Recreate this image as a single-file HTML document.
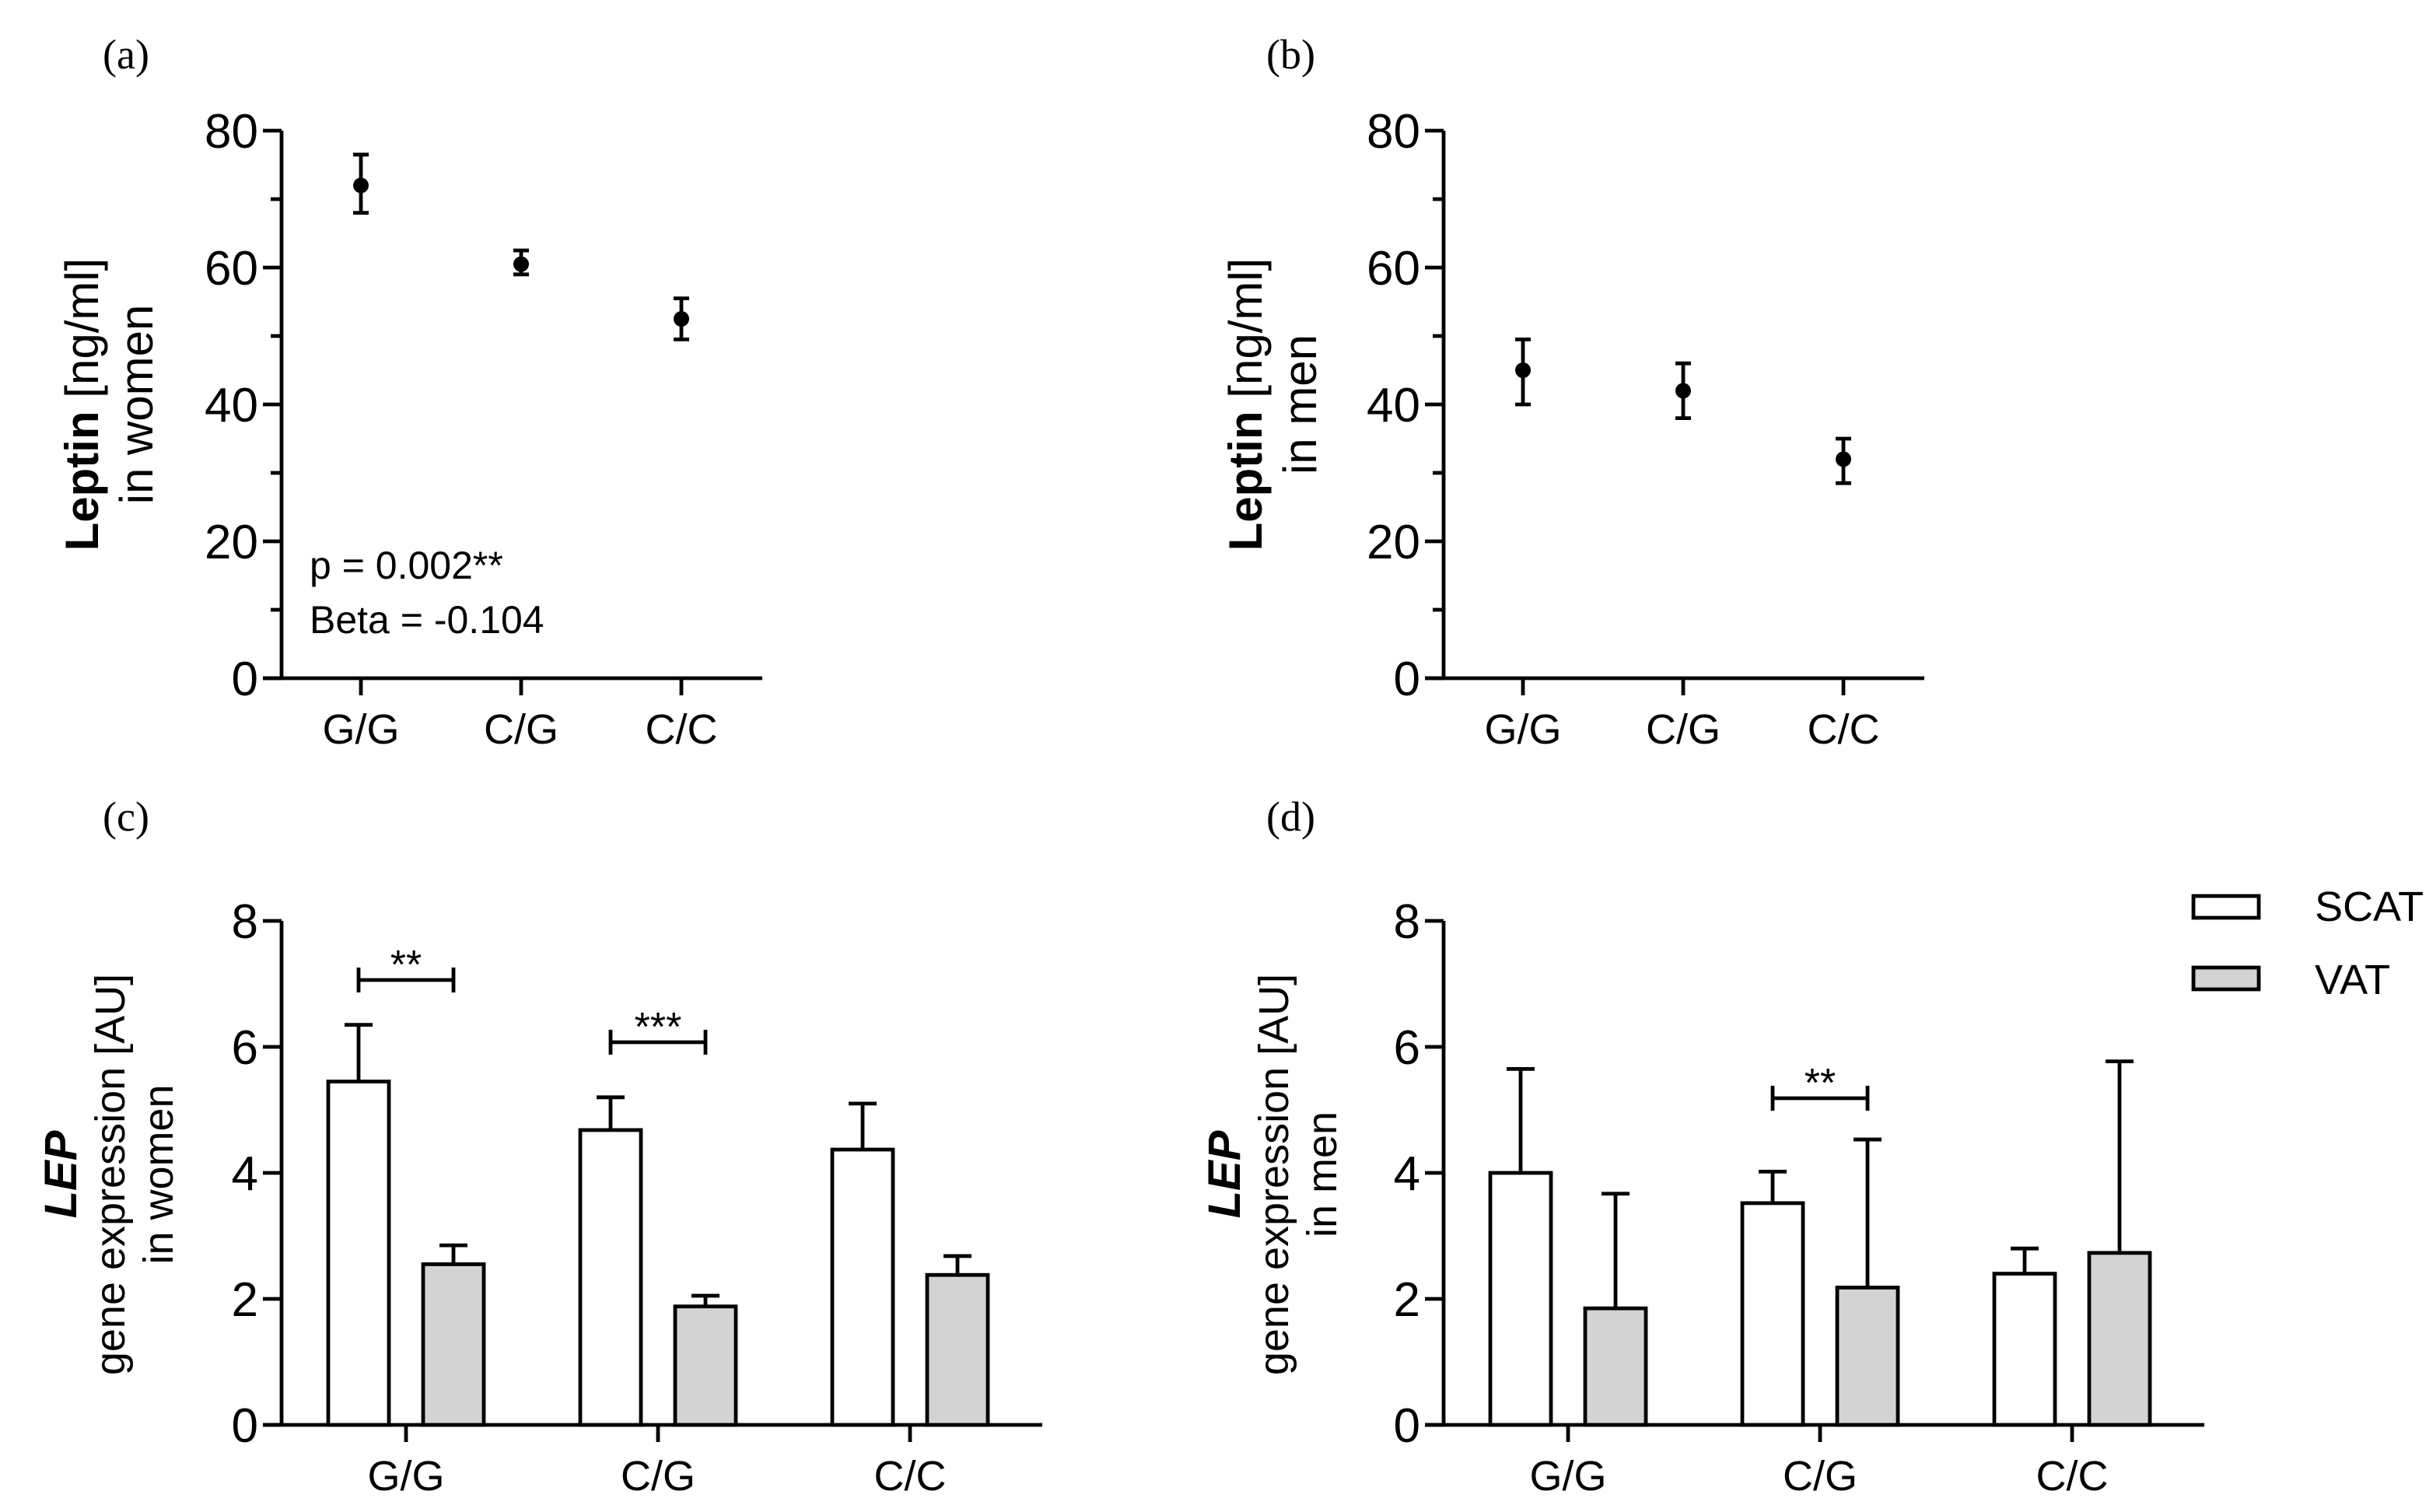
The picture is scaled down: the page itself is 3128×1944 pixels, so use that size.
<!DOCTYPE html>
<html><head><meta charset="utf-8">
<style>
html,body{margin:0;padding:0;background:#fff;}
svg{display:block;}
text{font-family:"Liberation Sans",Arial,sans-serif;fill:#000;}
.ser{font-family:"Liberation Serif","Times New Roman",serif;}
</style></head>
<body>
<svg id="fig" width="3128" height="1944" viewBox="0 0 1564 972" xmlns="http://www.w3.org/2000/svg">
<text class="ser" x="66" y="44" font-size="27">(a)</text>
<text class="ser" x="814" y="44" font-size="27">(b)</text>
<text class="ser" x="66" y="534" font-size="27">(c)</text>
<text class="ser" x="814" y="534" font-size="27">(d)</text>

<g>
<text transform="translate(63,260) rotate(-90)" text-anchor="middle" font-size="30"><tspan font-weight="bold">Leptin</tspan> [ng/ml]</text>
<text transform="translate(98,260) rotate(-90)" text-anchor="middle" font-size="30">in women</text>
</g>
<g>
<text transform="translate(811,260) rotate(-90)" text-anchor="middle" font-size="30"><tspan font-weight="bold">Leptin</tspan> [ng/ml]</text>
<text transform="translate(846,260) rotate(-90)" text-anchor="middle" font-size="30">in men</text>
</g>
<g>
<text transform="translate(49,755) rotate(-90)" text-anchor="middle" font-size="29" font-weight="bold" font-style="italic">LEP</text>
<text transform="translate(80,755) rotate(-90)" text-anchor="middle" font-size="27">gene expression [AU]</text>
<text transform="translate(111,755) rotate(-90)" text-anchor="middle" font-size="27">in women</text>
</g>
<g>
<text transform="translate(797,755) rotate(-90)" text-anchor="middle" font-size="29" font-weight="bold" font-style="italic">LEP</text>
<text transform="translate(828,755) rotate(-90)" text-anchor="middle" font-size="27">gene expression [AU]</text>
<text transform="translate(859,755) rotate(-90)" text-anchor="middle" font-size="27">in men</text>
</g>

<text x="199" y="372" font-size="25">p = 0.002**</text>
<text x="199" y="407" font-size="25">Beta = -0.104</text>

<g>
<rect x="1410" y="576" width="42" height="14" fill="#fff" stroke="#000" stroke-width="2.4"/>
<text x="1488" y="592" font-size="27">SCAT</text>
<rect x="1410" y="622" width="42" height="14" fill="#d3d3d3" stroke="#000" stroke-width="2.4"/>
<text x="1488" y="639" font-size="27">VAT</text>
</g>
<g id="charts"></g>
</svg>
<script>
const cats = ["G/G","C/G","C/C"];
const womenLeptin = [72, 60.5, 52.5];
const womenLeptinLo = [68, 59, 49.5];
const womenLeptinHi = [76.5, 62.5, 55.5];
const menLeptin = [45, 42, 32];
const menLeptinLo = [40, 38, 28.5];
const menLeptinHi = [49.5, 46, 35];
const leptinTicks = [0,20,40,60,80];
const womenScat = [5.45, 4.68, 4.37];
const womenScatErr = [6.35, 5.2, 5.1];
const womenVat = [2.55, 1.88, 2.38];
const womenVatErr = [2.85, 2.05, 2.68];
const menScat = [4.0, 3.52, 2.4];
const menScatErr = [5.65, 4.02, 2.8];
const menVat = [1.85, 2.18, 2.73];
const menVatErr = [3.67, 4.53, 5.77];
const exprTicks = [0,2,4,6,8];

const NS="http://www.w3.org/2000/svg";
const root=document.getElementById('charts');
function mk(tag,attrs,parent){const e=document.createElementNS(NS,tag);for(const k in attrs)e.setAttribute(k,attrs[k]);(parent||root).appendChild(e);return e;}
function line(x1,y1,x2,y2,p,w){return mk('line',{x1,y1,x2,y2,stroke:'#000','stroke-width':w||2.4},p);}

function axes(g,ax,x0,x1,y0,y1,max,ticks,minor,catX){
  const ys=v=>y0-(v/max)*(y0-y1);
  line(ax,y0,ax,y1,g);
  line(ax-12,y0,x1,y0,g);
  ticks.forEach(t=>{
    line(ax-12,ys(t),ax,ys(t),g);
    const tx=mk('text',{x:ax-15,y:ys(t)+11,'text-anchor':'end','font-size':31},g);
    tx.textContent=t;
    
    
  });
  if(minor){for(let i=0;i<ticks.length-1;i++){const v=(ticks[i]+ticks[i+1])/2;line(ax-7,ys(v),ax,ys(v),g);}}
  cats.forEach((c,i)=>{
    line(catX(i),y0,catX(i),y0+11,g);
    const tx=mk('text',{x:catX(i),y:y0+42,'text-anchor':'middle','font-size':27},g);
    tx.textContent=c;
    
    
  });
  return ys;
}

function dotPanel(name,ax,vals,lo,hi){
  const g=mk('g',{});
  
  
  const catX=i=>ax+51+i*103;
  const ys=axes(g,ax,ax,ax+309,436,84,80,leptinTicks,true,catX);
  vals.forEach((v,i)=>{
    const x=catX(i);
    line(x,ys(lo[i]),x,ys(hi[i]),g);
    line(x-5,ys(lo[i]),x+5,ys(lo[i]),g);
    line(x-5,ys(hi[i]),x+5,ys(hi[i]),g);
    const c=mk('circle',{cx:x,cy:ys(v),r:5,fill:'#000'},g);
    
    
  });
}

function barPanel(name,ax,scat,scatE,vat,vatE,x1){
  const g=mk('g',{});
  
  
  const catX=i=>ax+80+i*162;
  const ys=axes(g,ax,ax,x1,916,592,8,exprTicks,false,catX);
  const bw=39;
  function bar(cx,v,e,fill,nm){
    line(cx,ys(v),cx,ys(e),g);
    line(cx-9,ys(e),cx+9,ys(e),g);
    const r=mk('rect',{x:cx-bw/2,y:ys(v),width:bw,height:ys(0)-ys(v),fill:fill,stroke:'#000','stroke-width':2.4},g);
    
    
  }
  cats.forEach((c,i)=>{
    bar(catX(i)-30.5,scat[i],scatE[i],'#fff','bar-scat-'+c);
    bar(catX(i)+30.5,vat[i],vatE[i],'#d3d3d3','bar-vat-'+c);
  });
  return {g,catX};
}

function bracket(g,xa,xb,y,label){
  line(xa,y,xb,y,g);line(xa,y-8,xa,y+8,g);line(xb,y-8,xb,y+8,g);
  const t=mk('text',{x:(xa+xb)/2,y:y-1,'text-anchor':'middle','font-size':26},g);
  t.textContent=label;
  
  
}

dotPanel('panel-a-leptin-women',181,womenLeptin,womenLeptinLo,womenLeptinHi);
dotPanel('panel-b-leptin-men',928,menLeptin,menLeptinLo,menLeptinHi);
const pc=barPanel('panel-c-lep-women',181,womenScat,womenScatErr,womenVat,womenVatErr,670);
bracket(pc.g,pc.catX(0)-30.5,pc.catX(0)+30.5,630,'**');
bracket(pc.g,pc.catX(1)-30.5,pc.catX(1)+30.5,670,'***');
const pd=barPanel('panel-d-lep-men',928,menScat,menScatErr,menVat,menVatErr,1417);
bracket(pd.g,pd.catX(1)-30.5,pd.catX(1)+30.5,706,'**');
</script>
</body></html>
